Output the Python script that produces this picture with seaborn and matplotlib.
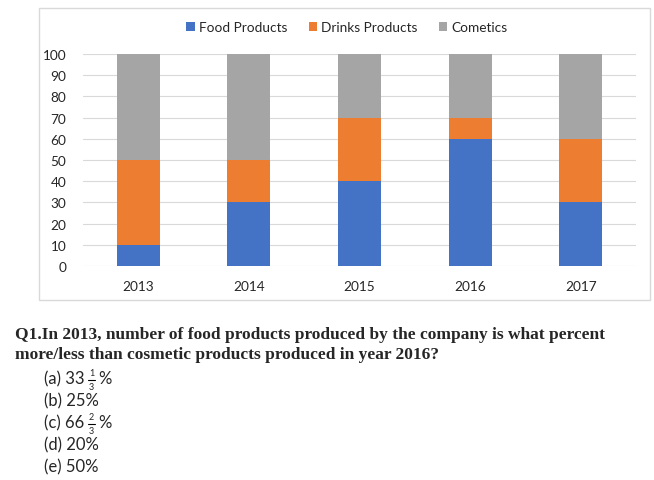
import numpy as np
import seaborn as sns
import matplotlib.pyplot as plt
from matplotlib.patches import Patch, Rectangle

years = ["2013", "2014", "2015", "2016", "2017"]
food = np.array([10, 30, 40, 60, 30])
drinks = np.array([40, 20, 30, 10, 30])
cosmetics = np.array([50, 50, 30, 30, 40])
series_names = ["Food Products", "Drinks Products", "Cometics"]
colors = ["#4472C4", "#ED7D31", "#A5A5A5"]

question = ["Q1.In 2013, number of food products produced by the company is what percent",
            "more/less than cosmetic products produced in year 2016?"]
# (prefix, numerator, denominator) -- fraction part empty for plain options
options = [("(a) 33", "1", "3"), ("(b) 25%", None, None), ("(c) 66", "2", "3"),
           ("(d) 20%", None, None), ("(e) 50%", None, None)]

sns.set_style("white")
plt.rcParams["font.family"] = ["Lato", "DejaVu Sans"]

W, H = 654, 481
fig = plt.figure(figsize=(W / 100, H / 100), dpi=100)

def fx(px):
    return px / W

def fy(py):
    return 1 - py / H

# chart frame
fig.patches.append(Rectangle((fx(39), fy(301)), fx(650) - fx(39), fy(9) - fy(301),
                             transform=fig.transFigure, fill=False,
                             edgecolor="#D9D9D9", lw=1))

ax = fig.add_axes([fx(83), fy(267), fx(636) - fx(83), fy(55) - fy(267)])

# stacked bars drawn as cumulative layers, top first
bar_kw = dict(saturation=1, width=0.39, linewidth=0, ax=ax)
sns.barplot(x=years, y=food + drinks + cosmetics, color=colors[2], **bar_kw)
sns.barplot(x=years, y=food + drinks, color=colors[1], **bar_kw)
sns.barplot(x=years, y=food, color=colors[0], **bar_kw)

ax.set_ylim(0, 100)
ax.set_xlim(-0.5, 4.5)
ax.set_yticks(range(0, 101, 10))
ax.yaxis.grid(True, color="#D9D9D9", lw=0.8)
ax.set_axisbelow(True)
for s in ax.spines.values():
    s.set_visible(False)
ax.tick_params(axis="both", length=0, labelsize=9.8, colors="#262626")
ax.tick_params(axis="y", pad=12)
ax.tick_params(axis="x", pad=10)
ax.set_xlabel("")
ax.set_ylabel("")

handles = [Patch(facecolor=c, edgecolor="none") for c in colors]
fig.legend(handles, series_names, loc="center", bbox_to_anchor=(fx(347), fy(28)),
           ncol=3, frameon=False, fontsize=9.8, handlelength=0.6, handleheight=0.6,
           handletextpad=0.3, columnspacing=1.6, labelcolor="#262626")

# question text
fig.text(fx(15), fy(335), question[0], fontsize=12.5, fontweight="bold",
         family="Liberation Serif", va="center", ha="left")
fig.text(fx(15), fy(355), question[1], fontsize=12.5, fontweight="bold",
         family="Liberation Serif", va="center", ha="left")

fig.canvas.draw()
renderer = fig.canvas.get_renderer()
ys = [379, 401, 423, 445, 467]
for (pre, num, den), y in zip(options, ys):
    t = fig.text(fx(44), fy(y), pre, fontsize=12, va="center", ha="left")
    if num is None:
        continue
    bb = t.get_window_extent(renderer)
    xc = bb.x1 + 7
    fig.text(xc / W, fy(y - 5), num, fontsize=6.5, va="center", ha="center")
    fig.text(xc / W, fy(y + 9), den, fontsize=6.5, va="center", ha="center")
    fig.add_artist(plt.Line2D([(xc - 3.5) / W, (xc + 3.5) / W], [fy(y + 2), fy(y + 2)],
                              color="black", lw=0.8, transform=fig.transFigure))
    fig.text((xc + 7) / W, fy(y), "%", fontsize=12, va="center", ha="left")

fig.savefig("out.png", dpi=100)
